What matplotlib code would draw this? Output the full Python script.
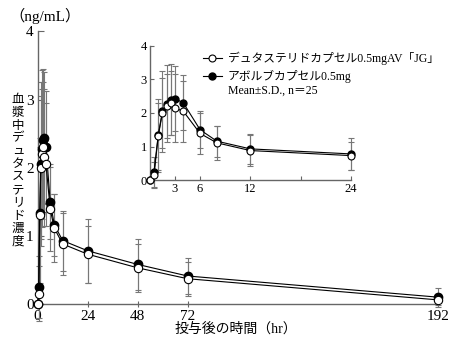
import matplotlib
matplotlib.use("Agg")
import matplotlib.pyplot as plt

plt.rcParams['font.family'] = ['Liberation Serif', 'Noto Sans CJK JP', 'DejaVu Sans']

# time after dosing (hr)
hours = [0, 0.5, 1, 1.5, 2, 2.5, 3, 4, 6, 8, 12, 24, 48, 72, 192]
# mean plasma concentration (ng/mL)
jg_mean = [0, 0.15, 1.31, 2.0, 2.2, 2.3, 2.15, 2.05, 1.39, 1.11, 0.88, 0.73, 0.53, 0.37, 0.06]
jg_sd = [0, 0.40, 1.0, 1.05, 0.95, 0.95, 1.0, 0.9, 0.62, 0.5, 0.45, 0.42, 0.35, 0.25, 0.08]
avolve_mean = [0, 0.25, 1.33, 2.05, 2.28, 2.4, 2.43, 2.3, 1.5, 1.16, 0.93, 0.78, 0.58, 0.41, 0.10]
avolve_sd = [0, 0.45, 1.1, 1.2, 1.15, 1.05, 0.97, 0.82, 0.55, 0.46, 0.44, 0.47, 0.37, 0.27, 0.14]

label_jg = "デュタステリドカプセル0.5mgAV「JG」"
label_avolve = "アボルブカプセル0.5mg"

axis_col = "#666666"
bar_col = "#777777"

fig = plt.figure(figsize=(4.54, 3.45), dpi=100)


def draw(ax, ms, n):
    t = hours[:n]
    ax.errorbar(t, avolve_mean[:n], yerr=avolve_sd[:n], fmt="none", ecolor=bar_col,
                elinewidth=0.8, capsize=2.5, capthick=0.8, clip_on=False, zorder=2)
    ax.errorbar(t, jg_mean[:n], yerr=jg_sd[:n], fmt="none", ecolor=bar_col,
                elinewidth=0.8, capsize=2.5, capthick=0.8, clip_on=False, zorder=2)
    ax.plot(t, avolve_mean[:n], "-o", color="black", lw=0.8, ms=ms,
            mfc="black", mec="black", clip_on=False, zorder=3, label=label_avolve)
    ax.plot(t, jg_mean[:n], "-o", color="black", lw=0.8, ms=ms,
            mfc="white", mec="black", mew=0.8, clip_on=False, zorder=4, label=label_jg)
    for s in ["top", "right"]:
        ax.spines[s].set_visible(False)
    for s in ["left", "bottom"]:
        ax.spines[s].set_color(axis_col)
        ax.spines[s].set_linewidth(1.0)


# main axes
ax = fig.add_axes([0.083, 0.119, 0.881, 0.79])
draw(ax, 6, len(hours))
ax.set_xlim(0, 192)
ax.set_ylim(0, 4)
ax.set_xticks([0, 24, 48, 72, 192])
ax.set_yticks([0, 1, 2, 3, 4])
ax.tick_params(axis="both", direction="inout", length=4, color=axis_col,
               labelsize=11, pad=2.5)
ax.tick_params(axis="y", direction="in", pad=3)

# inset: first 24 hours
ax_in = fig.add_axes([0.330, 0.478, 0.443, 0.389])
draw(ax_in, 5, hours.index(24) + 1)
ax_in.set_xlim(0, 24)
ax_in.set_ylim(0, 4)
ax_in.set_xticks([0, 3, 6, 12, 18, 24])
ax_in.set_xticklabels(["", "3", "6", "12", "", "24"])
ax_in.set_yticks([0, 1, 2, 3, 4])
ax_in.tick_params(axis="both", direction="in", length=3, color=axis_col,
                  labelsize=9, pad=2)

handles, labels = ax_in.get_legend_handles_labels()
ax_in.legend(handles[::-1], labels[::-1], loc="upper left", bbox_to_anchor=(0.24, 0.99),
             frameon=False, fontsize=8.5, handlelength=1.6, handletextpad=0.5,
             borderaxespad=0, labelspacing=0.4)
ax_in.text(0.39, 0.645, "Mean±S.D., n＝25", transform=ax_in.transAxes, fontsize=8.5)

fig.text(0.02, 0.955, "（ng/mL）", fontsize=11, va="center", ha="left")
fig.text(0.04, 0.505, "\n".join("血漿中デュタステリド濃度"), fontsize=9,
         ha="center", va="center", linespacing=1.1)
fig.text(0.52, 0.045, "投与後の時間（hr）", fontsize=10, ha="center", va="center")

fig.savefig("out.png", dpi=100)
